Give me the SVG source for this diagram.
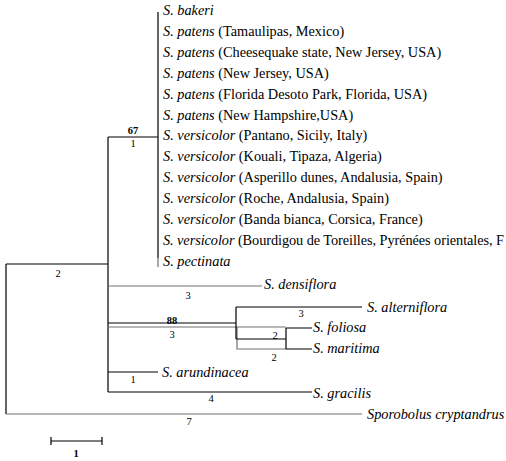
<svg xmlns="http://www.w3.org/2000/svg" width="506" height="461" viewBox="0 0 506 461">
<style>
.b{stroke:#000;stroke-width:1.2;fill:none}
.g{stroke:#707070;stroke-width:1.2;fill:none}
text{font-family:'Liberation Serif','Times New Roman',serif;fill:#000}
.tip{font-size:14.3px}
.i{font-style:italic}
.n{font-size:10.5px;text-anchor:middle}
.bs{font-weight:bold}
</style>
<rect width="506" height="461" fill="#fff"/>
<g id="connectors">
<path class="b" d="M108,137H158M158,12V258M108,137V392M6,264H108M6,264V414"/>
<path class="g" d="M158,258V267"/>
<path class="g" d="M108,286H262"/>
<path class="g" d="M108,327H286M237,327V349H286"/>
<path class="b" d="M108,323H236M236,307V339M236,307H362M236,339H286M286,328V349"/>
<path class="b" stroke-width="1.6" d="M286,328H312M286,349H312"/>
<path class="b" d="M108,372H158M108,392H312"/>
<path class="g" d="M6,414H362"/>
</g>
<g id="tips">
<text class="tip" x="163" y="15"><tspan class="i">S. bakeri</tspan></text>
<text class="tip" x="163" y="35.9"><tspan class="i">S. patens</tspan> (Tamaulipas, Mexico)</text>
<text class="tip" x="163" y="56.8"><tspan class="i">S. patens</tspan> (Cheesequake state, New Jersey, USA)</text>
<text class="tip" x="163" y="77.7"><tspan class="i">S. patens</tspan> (New Jersey, USA)</text>
<text class="tip" x="163" y="98.6"><tspan class="i">S. patens</tspan> (Florida Desoto Park, Florida, USA)</text>
<text class="tip" x="163" y="119.5"><tspan class="i">S. patens</tspan> (New Hampshire,USA)</text>
<text class="tip" x="163" y="140.4"><tspan class="i">S. versicolor</tspan> (Pantano, Sicily, Italy)</text>
<text class="tip" x="163" y="161.3"><tspan class="i">S. versicolor</tspan> (Kouali, Tipaza, Algeria)</text>
<text class="tip" x="163" y="182.2"><tspan class="i">S. versicolor</tspan> (Asperillo dunes, Andalusia, Spain)</text>
<text class="tip" x="163" y="203.1"><tspan class="i">S. versicolor</tspan> (Roche, Andalusia, Spain)</text>
<text class="tip" x="163" y="224"><tspan class="i">S. versicolor</tspan> (Banda bianca, Corsica, France)</text>
<text class="tip" x="163" y="244.9" textLength="341" lengthAdjust="spacing"><tspan class="i">S. versicolor</tspan> (Bourdigou de Toreilles, Pyrénées orientales, F</text>
<text class="tip" x="163" y="265.8"><tspan class="i">S. pectinata</tspan></text>
<text class="tip" x="264" y="288.5"><tspan class="i">S. densiflora</tspan></text>
<text class="tip" x="367" y="311.5"><tspan class="i">S. alterniflora</tspan></text>
<text class="tip" x="313" y="331.5"><tspan class="i">S. foliosa</tspan></text>
<text class="tip" x="313" y="352.5"><tspan class="i">S. maritima</tspan></text>
<text class="tip" x="162" y="376.5"><tspan class="i">S. arundinacea</tspan></text>
<text class="tip" x="313" y="397.5"><tspan class="i">S. gracilis</tspan></text>
<text class="tip" x="367" y="418.5"><tspan class="i">Sporobolus cryptandrus</tspan></text>
</g>
<g id="labels">
<text class="n bs" x="133" y="134">67</text>
<text class="n" x="133" y="147">1</text>
<text class="n" x="58" y="277">2</text>
<text class="n" x="188" y="299">3</text>
<text class="n bs" x="172" y="324">88</text>
<text class="n" x="172" y="338">3</text>
<text class="n" x="301" y="317">3</text>
<text class="n" x="275" y="339">2</text>
<text class="n" x="274" y="361">2</text>
<text class="n" x="133" y="383">1</text>
<text class="n" x="211" y="402">4</text>
<text class="n" x="189" y="425">7</text>
</g>
<g id="scale">
<path class="b" d="M51,441H102M51,437V445M102,437V445"/>
<text class="n bs" x="76" y="457">1</text>
</g>
</svg>
